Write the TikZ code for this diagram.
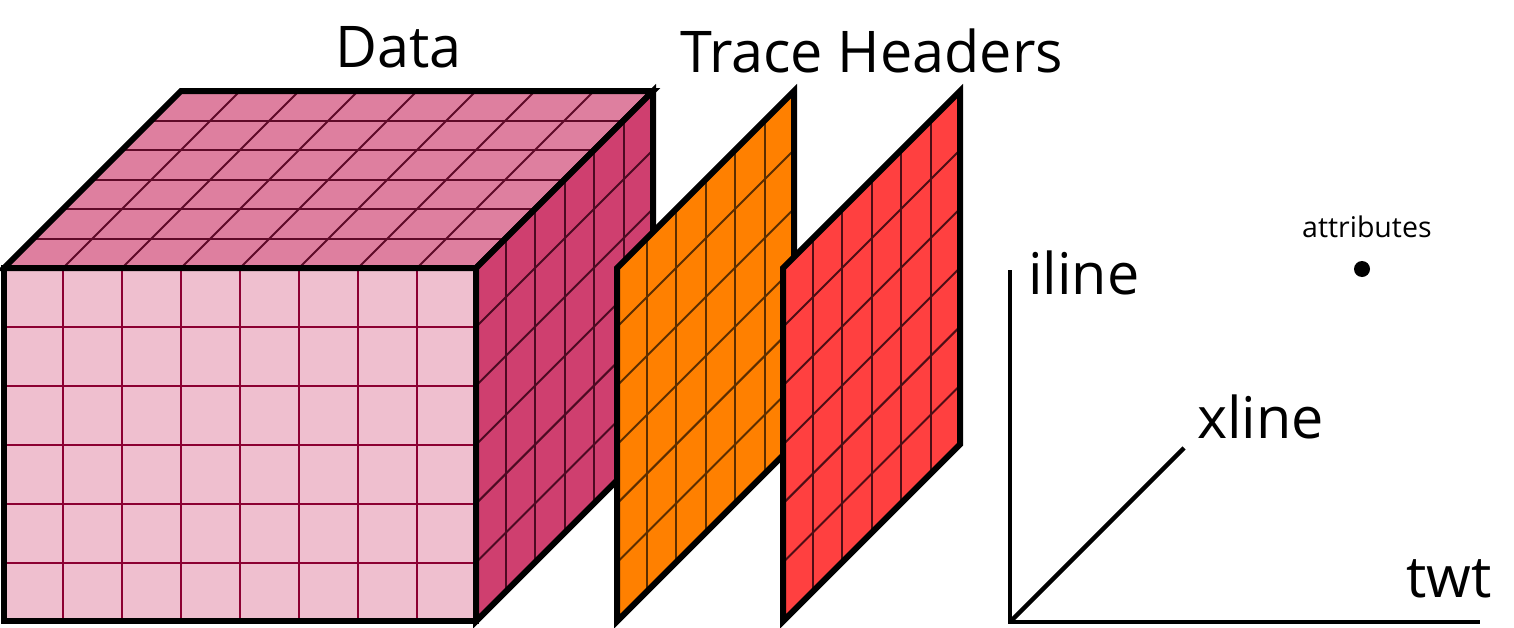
\documentclass[tikz,border=0pt]{standalone}
\usepackage{fontspec}
\setmainfont{Open Sans}
\definecolor{frontc}{HTML}{EFBFCF}
\definecolor{topc}{HTML}{DE7F9F}
\definecolor{sidec}{HTML}{CF3F6F}
\definecolor{orangec}{HTML}{FF8000}
\definecolor{redc}{HTML}{FF4040}
\definecolor{gfront}{HTML}{8C0032}
\definecolor{gtop}{HTML}{5F0A28}
\definecolor{gside}{HTML}{4D0A22}
\definecolor{gorange}{HTML}{5C2E00}
\definecolor{gred}{HTML}{4D0D14}
\tikzset{
  edge/.style={draw=black, line width=6pt, line join=miter},
  gridln/.style={line width=2pt},
  biglabel/.style={anchor=base west, inner sep=0pt, font=\fontsize{57.5}{62}\selectfont},
  smalllabel/.style={anchor=base west, inner sep=0pt, font=\fontsize{28.5}{32}\selectfont},
  axis/.style={line width=4.5pt, black},
  depthface/.style={x={(29.5pt,29.5pt)}, y={(0pt,-58.9pt)}}
}
\begin{document}
\begin{tikzpicture}[x=1pt,y=-1pt]
\useasboundingbox (0,0) rectangle (1514,627);

% ---- cube: front face
\begin{scope}[shift={(4,268)}, x={(59pt,0pt)}, y={(0pt,-58.9pt)}]
  \fill[frontc] (0,0) -- (8,0) -- (8,6) -- (0,6) -- cycle;
  \foreach \i in {1,...,7} \draw[gridln, gfront] (\i,0) -- (\i,6);
  \foreach \j in {1,...,5} \draw[gridln, gfront] (0,\j) -- (8,\j);
  \draw[edge] (0,0) -- (8,0) -- (8,6) -- (0,6) -- cycle;
\end{scope}
% ---- cube: top face
\begin{scope}[shift={(4,268)}, x={(59pt,0pt)}, y={(29.5pt,29.5pt)}]
  \fill[topc] (0,0) -- (8,0) -- (8,6) -- (0,6) -- cycle;
  \foreach \i in {1,...,7} \draw[gridln, gtop] (\i,0) -- (\i,6);
  \foreach \j in {1,...,5} \draw[gridln, gtop] (0,\j) -- (8,\j);
  \draw[edge] (0,0) -- (8,0) -- (8,6) -- (0,6) -- cycle;
\end{scope}
% ---- cube: right face
\begin{scope}[shift={(476,268)}, depthface]
  \fill[sidec] (0,0) -- (6,0) -- (6,6) -- (0,6) -- cycle;
  \foreach \i in {1,...,5} \draw[gridln, gside] (\i,0) -- (\i,6);
  \foreach \j in {1,...,5} \draw[gridln, gside] (0,\j) -- (6,\j);
  \draw[edge] (0,0) -- (6,0) -- (6,6) -- (0,6) -- cycle;
\end{scope}

% ---- orange trace-header panel
\begin{scope}[shift={(617,268)}, depthface]
  \fill[orangec] (0,0) -- (6,0) -- (6,6) -- (0,6) -- cycle;
  \foreach \i in {1,...,5} \draw[gridln, gorange] (\i,0) -- (\i,6);
  \foreach \j in {1,...,5} \draw[gridln, gorange] (0,\j) -- (6,\j);
  \draw[edge] (0,0) -- (6,0) -- (6,6) -- (0,6) -- cycle;
\end{scope}
% ---- red trace-header panel
\begin{scope}[shift={(783,268)}, depthface]
  \fill[redc] (0,0) -- (6,0) -- (6,6) -- (0,6) -- cycle;
  \foreach \i in {1,...,5} \draw[gridln, gred] (\i,0) -- (\i,6);
  \foreach \j in {1,...,5} \draw[gridln, gred] (0,\j) -- (6,\j);
  \draw[edge] (0,0) -- (6,0) -- (6,6) -- (0,6) -- cycle;
\end{scope}

% ---- labels
\node[biglabel] (data) at (335,67) {Data};
\node[biglabel] (th) at (680,72) {Trace Headers};

% ---- axes
\coordinate (O) at (1010,622);
\coordinate (Yend) at (1010,270);
\coordinate (Xend) at (1480,622);
\coordinate (Zend) at (1184,448);
\draw[axis] (Yend) -- (O) -- (Xend);
\draw[axis] (O) -- (Zend);
\node[biglabel] (iline) at (1028,294) {iline};
\node[biglabel] (xline) at (1197,438) {xline};
\node[biglabel] (twt) at (1406,597) {twt};
\node[smalllabel] (attr) at (1302,237) {attributes};
\node[circle, fill=black, inner sep=0pt, minimum size=16pt] (dot) at (1362,269) {};
\end{tikzpicture}
\end{document}
